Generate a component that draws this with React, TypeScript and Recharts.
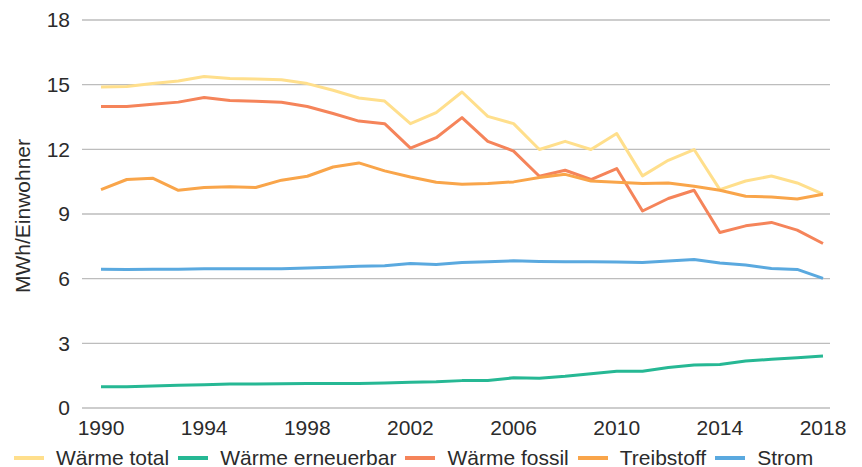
import React from "react";
import { LineChart, Line, XAxis, YAxis, CartesianGrid, Legend } from "recharts";

const years = [1990, 1991, 1992, 1993, 1994, 1995, 1996, 1997, 1998, 1999, 2000, 2001, 2002, 2003, 2004, 2005, 2006, 2007, 2008, 2009, 2010, 2011, 2012, 2013, 2014, 2015, 2016, 2017, 2018];

const waermeTotal = [14.89, 14.92, 15.05, 15.17, 15.38, 15.29, 15.26, 15.23, 15.05, 14.74, 14.38, 14.24, 13.19, 13.7, 14.66, 13.53, 13.19, 11.99, 12.37, 11.99, 12.73, 10.77, 11.49, 11.99, 10.13, 10.53, 10.76, 10.44, 9.92];
const waermeErneuerbar = [0.99, 0.99, 1.02, 1.05, 1.08, 1.11, 1.11, 1.13, 1.14, 1.14, 1.14, 1.16, 1.2, 1.22, 1.27, 1.28, 1.4, 1.38, 1.47, 1.59, 1.7, 1.71, 1.88, 1.99, 2.02, 2.18, 2.26, 2.33, 2.41];
const waermeFossil = [13.99, 13.99, 14.09, 14.19, 14.4, 14.27, 14.23, 14.18, 13.99, 13.66, 13.31, 13.19, 12.06, 12.54, 13.47, 12.37, 11.92, 10.75, 11.03, 10.6, 11.11, 9.14, 9.72, 10.1, 8.14, 8.45, 8.61, 8.25, 7.63];
const treibstoff = [10.13, 10.6, 10.66, 10.1, 10.23, 10.26, 10.23, 10.57, 10.75, 11.18, 11.37, 11.0, 10.72, 10.47, 10.38, 10.41, 10.49, 10.69, 10.84, 10.53, 10.47, 10.41, 10.44, 10.29, 10.1, 9.82, 9.79, 9.7, 9.92];
const strom = [6.44, 6.43, 6.44, 6.44, 6.46, 6.46, 6.46, 6.46, 6.5, 6.53, 6.58, 6.6, 6.7, 6.66, 6.75, 6.78, 6.83, 6.8, 6.78, 6.78, 6.77, 6.75, 6.82, 6.89, 6.73, 6.63, 6.47, 6.43, 6.01];

const xTicks = [1990, 1994, 1998, 2002, 2006, 2010, 2014, 2018];
const yTicks = [0, 3, 6, 9, 12, 15, 18];
const yLabel = "MWh/Einwohner";

const seriesNames = ["Wärme total", "Wärme erneuerbar", "Wärme fossil", "Treibstoff", "Strom"];
const seriesColors = ["#FFDF8C", "#26B894", "#F5845A", "#F9A54A", "#5AA9DF"];
const seriesValues = [waermeTotal, waermeErneuerbar, waermeFossil, treibstoff, strom];

const data = years.map((year, i) => {
  const row: Record<string, number> = { year };
  seriesNames.forEach((name, s) => {
    row[name] = seriesValues[s][i];
  });
  return row;
});

const FONT = "'Liberation Sans', Arial, sans-serif";
const TEXT_COLOR = "#2b2b2b";

const renderLegend = (props: any) => {
  const payload = [...(props.payload || [])].sort(
    (a: any, b: any) => seriesNames.indexOf(a.value) - seriesNames.indexOf(b.value)
  );
  return (
    <div
      style={{
        display: "flex",
        alignItems: "center",
        height: 16,
        lineHeight: "16px",
        paddingLeft: 14,
        fontFamily: FONT,
        fontSize: 21,
        color: TEXT_COLOR,
        whiteSpace: "nowrap",
      }}
    >
      {payload.map((entry: any) => (
        <div key={entry.value} style={{ display: "flex", alignItems: "center", marginRight: 9 }}>
          <svg width={30} height={4} style={{ marginRight: 12, display: "block" }}>
            <line x1={0} y1={2} x2={30} y2={2} stroke={entry.color} strokeWidth={4} />
          </svg>
          <span>{entry.value}</span>
        </div>
      ))}
    </div>
  );
};

const renderYLabel = () => (
  <text
    transform="translate(29.5,216) rotate(-90)"
    x={0}
    y={0}
    textAnchor="middle"
    fontFamily={FONT}
    fontSize={21}
    fill={TEXT_COLOR}
  >
    {yLabel}
  </text>
);

export default function App() {
  return (
    <div style={{ position: "absolute", left: 0, top: 0, width: 862, height: 467, overflow: "hidden", background: "#fff" }}>
      <LineChart width={862} height={467} data={data} margin={{ top: 20, right: 32, bottom: 0, left: 0 }}>
        <CartesianGrid vertical={false} stroke="#BDBDBD" strokeWidth={1.3} />
        <XAxis
          dataKey="year"
          type="number"
          domain={[1990, 2018]}
          ticks={xTicks}
          padding={{ left: 19, right: 7 }}
          axisLine={false}
          tickLine={false}
          tickSize={0}
          tickMargin={12}
          height={43}
          interval={0}
          tick={{ fontFamily: FONT, fontSize: 21, fill: TEXT_COLOR }}
        />
        <YAxis
          domain={[0, 18]}
          ticks={yTicks}
          axisLine={false}
          tickLine={false}
          tickSize={0}
          tickMargin={12}
          width={82}
          interval={0}
          tick={{ fontFamily: FONT, fontSize: 21, fill: TEXT_COLOR }}
          label={renderYLabel}
        />
        <Legend
          verticalAlign="bottom"
          align="left"
          content={renderLegend}
          wrapperStyle={{ left: 0, bottom: 1.5, width: 862 }}
        />
        {seriesNames.map((name, s) => (
          <Line
            key={name}
            type="linear"
            dataKey={name}
            stroke={seriesColors[s]}
            strokeWidth={3}
            dot={false}
            activeDot={false}
            isAnimationActive={false}
            strokeLinejoin="round"
          />
        ))}
      </LineChart>
    </div>
  );
}
